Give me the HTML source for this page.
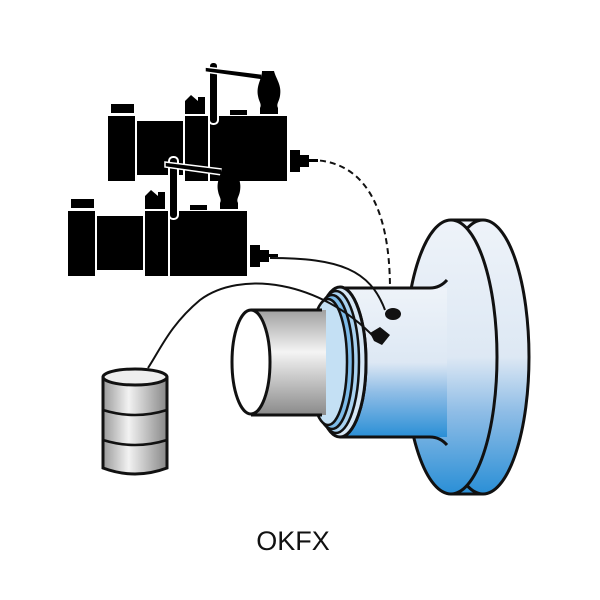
<!DOCTYPE html>
<html><head><style>body{margin:0;background:#fff}svg{display:block}</style></head><body>
<svg width="600" height="600" viewBox="0 0 600 600" xmlns="http://www.w3.org/2000/svg">
<defs>
<linearGradient id="blue" x1="0" y1="0" x2="0" y2="1">
<stop offset="0" stop-color="#eef3f9"/><stop offset="0.5" stop-color="#dde8f4"/><stop offset="0.7" stop-color="#8fbde6"/><stop offset="1" stop-color="#2a8fd6"/></linearGradient>
<linearGradient id="grey" x1="0" y1="0" x2="0" y2="1">
<stop offset="0" stop-color="#a0a0a0"/><stop offset="0.4" stop-color="#f4f4f4"/><stop offset="1" stop-color="#8a8a8a"/></linearGradient>
<linearGradient id="barrel" x1="0" y1="0" x2="1" y2="0">
<stop offset="0" stop-color="#9a9a9a"/><stop offset="0.4" stop-color="#f2f2f2"/><stop offset="1" stop-color="#888"/></linearGradient>
<g id="mach">
<rect x="111" y="104" width="23" height="9"/>
<rect x="108" y="116" width="27" height="65"/>
<rect x="137" y="121" width="46" height="54"/>
<rect x="185" y="116" width="23" height="65"/>
<rect x="210" y="116" width="77" height="65"/>
<path d="M185 101 l6 -6 7 6 0 -4 7 0 0 17 -20 0z"/>
<rect x="230" y="110" width="17" height="5"/>
<rect x="209" y="62" width="9" height="62" rx="4" stroke="#fff" stroke-width="2"/>
<path d="M205 67 L262 74 L262 80 L205 72z" stroke="#fff" stroke-width="1.5"/>
<path d="M262 71 h12 c2 8 8 14 6 25 c-1 6 -4 8 -2 12 l0 6 h-18 l0 -6 c2 -4 -1 -6 -2 -12 c-2 -11 4 -17 4 -25z"/>
<rect x="290" y="150" width="10" height="22"/><rect x="300" y="155" width="9" height="12"/><rect x="309" y="159" width="9" height="3"/>
</g>
</defs>
<rect width="600" height="600" fill="#fff"/>
<path d="M310 160 C360 160 390 200 390 290" fill="none" stroke="#111" stroke-width="2" stroke-dasharray="6,4"/>
<use href="#mach"/>
<use href="#mach" transform="translate(-40,95)"/>
<!-- flange -->
<rect x="451" y="220" width="32" height="274" fill="url(#blue)"/>
<path d="M451 220 L483 220 M451 494 L483 494" stroke="#111" stroke-width="3"/>
<ellipse cx="483" cy="357" rx="46" ry="137" fill="url(#blue)" stroke="#111" stroke-width="3"/>
<ellipse cx="451" cy="357" rx="46" ry="137" fill="url(#blue)" stroke="#111" stroke-width="3"/>
<!-- sleeve -->
<rect x="340" y="288" width="107" height="149" fill="url(#blue)"/>
<path d="M340 288 H430 Q440 288 447 280 M340 437 H430 Q440 437 447 445" fill="none" stroke="#111" stroke-width="3"/>
<path d="M340 287 A26 75 0 0 1 340 437" fill="none" stroke="#111" stroke-width="3"/>
<ellipse cx="340" cy="362" rx="26" ry="75" fill="#d6e7f5" stroke="#111" stroke-width="3"/>
<ellipse cx="336" cy="362" rx="23" ry="71" fill="#a9d2f0" stroke="#111" stroke-width="2.5"/>
<ellipse cx="332" cy="362" rx="21" ry="67" fill="#7dbbe8" stroke="#111" stroke-width="2.5"/>
<ellipse cx="328" cy="362" rx="19" ry="63" fill="#c4e0f4" stroke="#111" stroke-width="2.5"/>
<!-- pipe -->
<rect x="251" y="310" width="75" height="105" fill="url(#grey)"/>
<path d="M251 310 H322 M251 415 H322" stroke="#111" stroke-width="3"/>
<ellipse cx="251" cy="362" rx="19" ry="52" fill="#fff" stroke="#111" stroke-width="3"/>
<!-- wires -->
<path d="M270 258 C340 258 370 270 385 310" fill="none" stroke="#111" stroke-width="2"/>
<ellipse cx="393" cy="314" rx="8" ry="6" fill="#111"/>
<path d="M375 338 C320 280 240 270 200 300 C170 325 160 350 148 368" fill="none" stroke="#111" stroke-width="2"/>
<path d="M370 333 l10 -6 10 8 -8 10 -8 -4z" fill="#111"/>
<!-- barrel -->
<path d="M103 378 V468 Q135 480 167 468 V378z" fill="url(#barrel)" stroke="#111" stroke-width="3"/>
<ellipse cx="135" cy="377" rx="32" ry="8" fill="#eee" stroke="#111" stroke-width="3"/>
<path d="M103 410 Q135 420 167 410 M103 440 Q135 450 167 440" fill="none" stroke="#111" stroke-width="2.5"/>
<text x="293" y="550" font-family="Liberation Sans, sans-serif" font-size="27" text-anchor="middle" fill="#111">OKFX</text>
</svg>
</body></html>
